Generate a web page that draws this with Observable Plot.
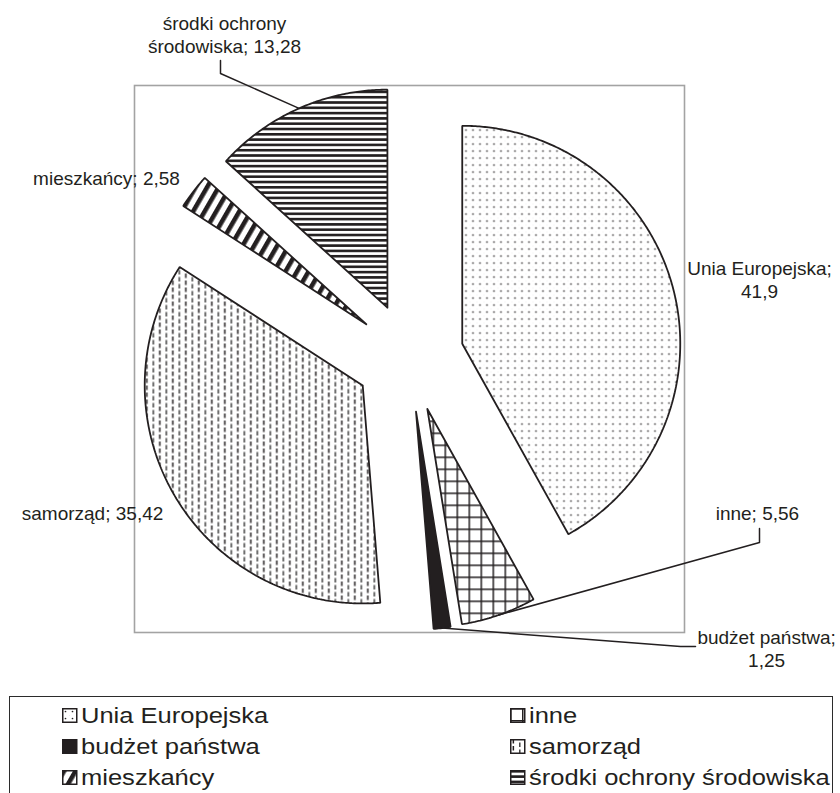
<!DOCTYPE html>
<html>
<head>
<meta charset="utf-8">
<script src="https://cdn.jsdelivr.net/npm/d3@7"></script>
<script src="https://cdn.jsdelivr.net/npm/@observablehq/plot@0.6"></script>
<style>
html, body { margin: 0; padding: 0; width: 840px; height: 793px; overflow: hidden; background: #fff; }
body { font-family: "Liberation Sans", Arial, sans-serif; color: #231f20; position: relative; }
#chart { position: absolute; left: 0; top: 0; }
#legend { position: absolute; left: 9px; top: 696px; width: 824px; height: 140px; border: 1.5px solid #2b2b2b; box-sizing: border-box; font-size: 22px; }
.item { position: absolute; display: flex; align-items: center; height: 31px; white-space: nowrap; }
.item svg { margin-right: 3px; flex: none; }
.item span { display: inline-block; transform: scaleX(1.16); transform-origin: 0 50%; }
</style>
</head>
<body>
<svg width="0" height="0" style="position:absolute;left:0;top:0">
  <defs>
    <pattern id="p-ue" patternUnits="userSpaceOnUse" width="7" height="7">
      <rect width="7" height="7" fill="#fff"/>
      <circle cx="3.5" cy="3.5" r="0.85" fill="#231f20"/>
      <circle cx="0" cy="0" r="0.5" fill="#b5b5b5"/>
    </pattern>
    <pattern id="p-inne" patternUnits="userSpaceOnUse" width="12" height="12">
      <rect width="12" height="12" fill="#fff"/>
      <path d="M0 0.75H12M0.75 0V12" stroke="#231f20" stroke-width="1.5"/>
    </pattern>
    <pattern id="p-sam" patternUnits="userSpaceOnUse" width="13" height="7">
      <rect width="13" height="7" fill="#fff"/>
      <rect x="2.6" y="0" width="1.5" height="4.5" fill="#231f20"/>
      <rect x="9.1" y="3.5" width="1.4" height="4.5" fill="#333"/>
      <rect x="9.1" y="-3.5" width="1.4" height="4.5" fill="#333"/>
    </pattern>
    <pattern id="p-mie" patternUnits="userSpaceOnUse" width="10" height="10" patternTransform="rotate(30)">
      <rect width="10" height="10" fill="#fff"/>
      <rect x="0" y="0" width="4.6" height="10" fill="#231f20"/>
    </pattern>
    <pattern id="p-sro" patternUnits="userSpaceOnUse" width="10" height="5.3">
      <rect width="10" height="5.3" fill="#fff"/>
      <rect x="0" y="0" width="10" height="2.6" fill="#231f20"/>
    </pattern>
  </defs>
</svg>
<div id="chart"></div>
<div id="legend"></div>
<script>
// ---- data ----
const categories = ["Unia Europejska", "inne", "budżet państwa", "samorząd", "mieszkańcy", "środki ochrony środowiska"];
const values = [41.9, 5.56, 1.25, 35.42, 2.58, 13.28];

// ---- styles (not data) ----
const fills = ["url(#p-ue)", "url(#p-inne)", "#231f20", "url(#p-sam)", "url(#p-mie)", "url(#p-sro)"];
const ink = "#231f20";

// label layout: position in pie-radius units relative to pie centre, words on first line (0 = single line)
const labelLayout = [
  {x: 1.6055, y: 0.359, wrap: 2},
  {x: 1.596, y: -0.712, wrap: 0},
  {x: 1.638, y: -1.3335, wrap: 2},
  {x: -1.454, y: -0.712, wrap: 0},
  {x: -1.390, y: 0.8248, wrap: 0},
  {x: -0.8486, y: 1.483, wrap: 2}
];
// leader line stubs (from label side) – ends at the slice's mid-arc point
const leaderLayout = [
  {slice: 5, stub: [[-0.867, 1.362], [-0.867, 1.303]]},
  {slice: 1, stub: [[1.6055, -0.784], [1.6055, -0.849]]},
  {slice: 2, stub: [[1.312, -1.326], [1.243, -1.326]]}
];

const explode = 0.25;
const TAU = 2 * Math.PI;
const total = d3.sum(values);
const fmt = v => String(v).replace(".", ",");

let acc = 0;
const slices = categories.map((c, i) => {
  const a0 = acc / total * TAU; acc += values[i]; const a1 = acc / total * TAU;
  const mid = (a0 + a1) / 2;
  const cx = explode * Math.sin(mid), cy = explode * Math.cos(mid);
  const n = Math.max(2, Math.ceil((a1 - a0) / (Math.PI / 360)));
  const pts = [{x: cx, y: cy}];
  for (let k = 0; k <= n; k++) {
    const a = a0 + (a1 - a0) * k / n;
    pts.push({x: cx + Math.sin(a), y: cy + Math.cos(a)});
  }
  pts.push({x: cx, y: cy});
  return {category: c, value: values[i], pts, edge: {x: cx + Math.sin(mid), y: cy + Math.cos(mid)}};
});

const labels = slices.map((s, i) => {
  const words = `${s.category}; ${fmt(s.value)}`.split(" ");
  const w = labelLayout[i].wrap;
  const text = w ? words.slice(0, w).join(" ") + "\n" + words.slice(w).join(" ") : words.join(" ");
  return {x: labelLayout[i].x, y: labelLayout[i].y, text};
});

const leaders = leaderLayout.map(l => [...l.stub.map(([x, y]) => ({x, y})), slices[l.slice].edge]);

const plot = Plot.plot({
  width: 840,
  height: 690,
  marginLeft: 134,
  marginRight: 156,
  marginTop: 85,
  marginBottom: 58,
  x: {domain: [-275 / 218, 275 / 218], axis: null},
  y: {domain: [-275 / 218, 272 / 218], axis: null},
  style: {fontFamily: "Liberation Sans, Arial, sans-serif", background: "#fff", overflow: "visible"},
  marks: [
    Plot.frame({stroke: "#a3a3a3", strokeWidth: 1.6}),
    ...slices.map((s, i) => Plot.line(s.pts, {x: "x", y: "y", curve: "linear", fill: fills[i], stroke: ink, strokeWidth: 1.8, strokeLinejoin: "miter"})),
    ...leaders.map(pts => Plot.line(pts, {x: "x", y: "y", curve: "linear", stroke: ink, strokeWidth: 1.5})),
    Plot.text(labels, {x: "x", y: "y", text: "text", fontSize: 19, lineHeight: 1.21, fill: ink, textAnchor: "middle", lineAnchor: "middle"})
  ]
});
document.getElementById("chart").appendChild(plot);

// legend (row-major, two columns)
const legend = document.getElementById("legend");
const colLeft = [52, 500];
categories.forEach((c, i) => {
  const item = document.createElement("div");
  item.className = "item";
  item.style.left = colLeft[i % 2] + "px";
  item.style.top = (3 + Math.floor(i / 2) * 31) + "px";
  item.innerHTML = `<svg width="16" height="15"><rect x="0.75" y="0.75" width="14" height="13.5" fill="${fills[i]}" stroke="${ink}" stroke-width="1.5"/></svg><span>${c}</span>`;
  legend.appendChild(item);
});
</script>
</body>
</html>
